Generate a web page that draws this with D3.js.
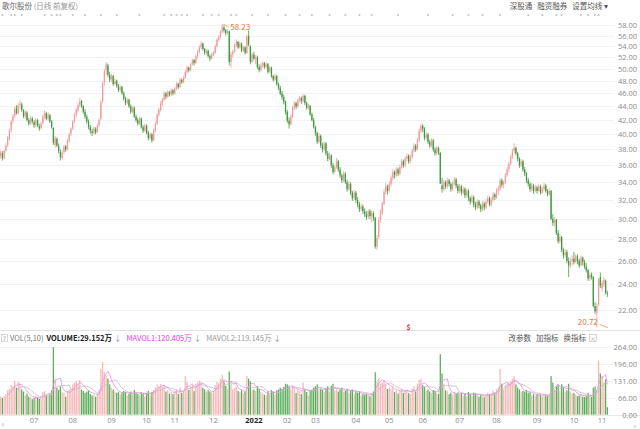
<!DOCTYPE html>
<html>
<head>
<meta charset="utf-8">
<script src="https://cdn.jsdelivr.net/npm/d3@7"></script>
<style>
  html, body { margin: 0; padding: 0; background: #fff; }
  svg { display: block; font-family: "Noto Sans CJK SC", "Noto Sans", sans-serif; }
</style>
</head>
<body>
<svg id="chart" width="640" height="429"></svg>
<script>
// daily rows: [open, high, low, close, volume(万)]
const jun2021 = [[37.2,37.9,36.8,37.6,70],[37.5,37.8,36.6,36.9,65],[36.9,38.0,36.7,37.8,72],[37.9,38.8,37.6,38.5,80],[38.6,39.8,38.3,39.5,95],[39.4,40.8,39.2,40.5,100],[40.6,42.0,40.2,41.8,115],[41.9,42.9,41.5,42.5,110],[42.6,44.0,42.3,43.6,132],[43.7,44.2,42.8,43.0,105],[43.0,44.5,42.8,44.1,128],[44.2,44.9,43.6,44.4,120],[44.3,44.6,43.2,43.5,98],[43.4,43.6,42.3,42.6,90],[42.5,43.5,42.2,43.2,75],[43.1,43.3,41.8,42.0,82],[42.0,42.3,41.2,41.5,70],[41.4,42.6,41.3,42.3,68],[42.2,42.5,41.5,41.8,60]];
const jul2021 = [[41.7,42.0,40.9,41.3,65],[41.3,42.3,41.0,42.0,72],[42.0,42.2,41.0,41.2,68],[41.1,41.5,40.5,40.8,62],[40.9,41.8,40.7,41.5,70],[41.6,42.8,41.4,42.5,88],[42.5,43.4,42.1,43.0,92],[43.0,43.2,42.0,42.2,75],[42.2,43.1,41.9,42.8,78],[42.7,42.9,41.6,41.8,80],[41.8,42.0,40.8,41.0,95],[40.9,41.0,38.6,38.9,262],[38.6,39.8,38.2,39.5,140],[39.4,39.6,38.3,38.5,105],[38.4,38.8,37.5,37.8,96],[37.7,38.0,36.6,37.0,110],[36.9,37.9,36.7,37.6,88],[37.7,38.6,37.4,38.4,85],[38.4,38.6,37.7,38.0,70],[38.1,39.4,37.9,39.2,92],[39.2,40.2,38.9,40.0,98],[40.1,41.0,39.8,40.8,100]];
const aug2021 = [[40.8,42.0,40.6,41.8,118],[41.9,43.0,41.6,42.8,125],[42.8,43.8,42.4,43.5,130],[43.4,44.5,43.1,44.2,120],[44.3,45.3,43.9,44.8,135],[44.8,45.0,43.8,44.0,98],[44.0,44.2,42.9,43.2,92],[43.2,43.6,42.2,42.5,85],[42.5,42.8,41.5,41.8,90],[41.8,42.1,40.7,41.0,95],[41.0,41.3,40.1,40.5,80],[40.4,40.8,39.8,40.2,75],[40.2,41.1,40.0,40.8,78],[40.8,41.0,40.0,40.3,70],[40.3,41.5,40.2,41.2,82],[41.3,42.3,41.0,42.0,98],[42.2,45.0,42.0,44.6,178],[44.8,48.0,44.5,47.6,205],[47.8,50.0,47.2,49.6,165],[49.8,51.2,49.0,50.8,150],[50.6,50.9,48.6,49.0,140],[49.0,49.5,47.8,48.2,118]];
const sep2021 = [[48.3,49.2,47.9,48.8,105],[48.8,49.0,47.2,47.5,98],[47.5,48.4,47.3,48.0,90],[48.0,48.2,46.9,47.2,85],[47.2,47.5,46.2,46.5,88],[46.5,47.3,46.3,47.0,80],[47.0,47.2,45.8,46.0,86],[46.0,46.3,44.9,45.2,92],[45.2,45.5,44.2,44.5,88],[44.5,45.3,44.3,45.0,75],[45.0,45.2,43.8,44.0,82],[44.0,44.3,42.9,43.2,90],[43.2,44.1,43.0,43.8,78],[43.8,44.0,42.3,42.5,96],[42.5,42.8,41.7,42.0,84],[42.0,42.3,41.2,41.5,80],[41.5,42.5,41.3,42.2,76],[42.2,42.4,40.8,41.0,88],[41.0,41.3,40.2,40.5,82],[40.5,41.5,40.3,41.2,72]];
const oct2021 = [[41.2,41.4,40.0,40.2,85],[40.2,40.5,39.2,39.5,92],[39.5,40.3,39.3,40.0,78],[40.0,40.2,38.9,39.2,88],[39.2,40.8,39.1,40.5,96],[40.5,41.8,40.3,41.5,105],[41.5,43.0,41.3,42.8,118],[42.8,43.8,42.5,43.5,110],[43.5,44.8,43.2,44.5,120],[44.5,45.3,44.1,45.0,108],[45.0,46.3,44.8,46.0,115],[46.0,46.2,45.1,45.5,90],[45.5,46.5,45.3,46.2,95],[46.2,46.4,45.5,45.8,82],[45.8,46.8,45.6,46.5,88],[46.5,46.7,45.7,46.0,80]];
const nov2021 = [[46.0,47.0,45.8,46.8,92],[46.8,47.8,46.5,47.5,98],[47.5,47.7,46.7,47.0,80],[47.0,48.5,46.9,48.2,105],[48.2,48.4,47.5,47.8,85],[47.8,48.8,47.6,48.5,92],[48.5,49.8,48.3,49.5,150],[49.5,50.6,49.2,50.2,128],[50.2,50.4,49.4,49.8,96],[49.8,51.0,49.6,50.8,110],[50.8,51.8,50.5,51.5,115],[51.5,51.7,50.6,51.0,92],[51.0,52.5,50.9,52.2,120],[52.2,53.3,51.9,53.0,125],[53.0,54.1,52.7,53.8,132],[53.8,54.9,53.5,54.5,128],[54.5,54.7,53.2,53.5,105],[53.5,53.7,52.5,52.8,98],[52.8,53.5,52.4,53.2,88],[53.2,53.4,52.0,52.2,95],[52.2,52.5,51.3,51.8,90],[51.8,52.8,51.6,52.5,86]];
const dec2021 = [[52.5,53.1,52.2,52.8,92],[52.8,54.3,52.6,54.0,115],[54.0,55.5,53.8,55.2,128],[55.2,56.1,54.9,55.8,122],[55.8,57.0,55.5,56.8,140],[56.8,58.23,56.4,57.6,155],[57.6,58.0,56.6,57.0,130],[57.0,57.3,56.0,56.5,112],[56.5,57.2,56.2,56.8,100],[56.8,57.0,50.6,51.2,168],[51.2,53.0,50.2,52.5,130],[52.5,53.4,52.0,53.0,98],[53.0,54.5,52.8,54.2,105],[54.2,55.3,53.9,54.8,110],[54.8,55.0,53.5,53.8,92],[53.8,54.8,53.6,54.5,88],[54.5,54.7,52.9,53.2,95],[53.2,54.1,53.0,53.8,82],[53.8,54.0,52.5,52.8,90],[52.8,56.2,52.6,55.8,150],[56.0,57.0,54.0,54.3,140],[54.0,54.2,50.8,51.2,130],[51.2,52.8,51.0,52.5,95]];
const jan2022 = [[52.5,53.0,51.5,51.8,98],[51.8,52.4,50.8,52.0,92],[52.0,52.3,50.0,50.3,110],[50.3,50.8,49.4,49.8,100],[49.8,51.0,49.6,50.6,88],[50.6,51.3,50.2,51.0,82],[51.0,51.2,50.0,50.3,78],[50.3,51.1,50.1,50.8,75],[50.8,51.0,49.2,49.5,92],[49.5,50.5,49.3,50.2,80],[50.2,50.4,48.5,48.8,96],[48.8,49.0,47.9,48.2,90],[48.2,49.2,48.0,48.8,78],[48.8,49.0,47.2,47.5,95],[47.5,47.7,46.5,46.8,98],[46.8,47.2,45.7,46.0,105],[46.0,46.4,45.0,45.4,100],[45.4,45.8,44.3,44.7,108],[44.7,44.9,42.8,43.2,120]];
const feb2022 = [[43.2,43.5,41.6,41.9,118],[41.9,42.4,40.8,41.4,110],[41.4,42.8,41.2,42.5,98],[42.5,44.0,42.3,43.8,112],[43.8,44.8,43.5,44.5,105],[44.5,44.7,43.6,44.0,85],[44.0,45.2,43.8,45.0,98],[45.0,45.6,44.6,45.3,92],[45.3,45.5,44.4,44.8,80],[44.8,45.9,44.6,45.6,125],[45.6,45.8,44.2,44.5,96],[44.5,44.7,43.5,43.8,88],[43.8,44.4,43.5,44.1,75],[44.1,44.2,42.6,42.8,92],[42.8,43.1,41.8,42.0,98],[42.0,42.3,40.8,41.0,105]];
const mar2022 = [[41.0,41.2,39.8,40.2,110],[40.2,40.4,38.7,39.0,118],[39.0,40.2,38.8,39.8,95],[39.8,40.0,38.2,38.5,102],[38.5,38.9,37.6,38.0,98],[38.0,39.1,37.8,38.8,90],[38.8,39.0,37.2,37.5,105],[37.5,37.8,36.5,36.8,110],[36.8,37.6,36.6,37.2,88],[37.2,37.4,35.7,36.0,112],[36.0,36.3,34.9,35.2,120],[35.2,36.1,35.0,35.8,95],[35.8,36.9,35.6,36.5,102],[36.5,36.7,35.2,35.5,90],[35.5,35.8,34.5,34.8,98],[34.8,35.0,33.9,34.2,105],[34.2,35.3,34.0,35.0,88],[35.0,35.2,33.8,34.0,92],[34.0,34.3,32.9,33.2,100],[33.2,34.1,33.0,33.8,85],[33.8,34.0,32.5,32.8,95],[32.8,33.0,31.9,32.2,98],[32.2,33.1,32.0,32.8,82]];
const apr2022 = [[32.8,33.0,31.7,32.0,88],[32.0,32.3,31.2,31.5,85],[31.5,31.8,30.7,31.0,90],[31.0,31.6,30.8,31.3,75],[31.3,31.5,30.5,30.8,80],[30.8,31.1,30.2,30.5,78],[30.5,30.8,29.9,30.2,82],[30.2,31.0,30.0,30.8,76],[30.8,31.0,30.0,30.3,72],[30.3,30.9,29.6,30.6,85],[30.6,30.8,29.8,30.1,90],[30.1,30.2,27.1,27.3,165],[27.3,28.4,27.0,28.1,130],[28.2,30.2,28.0,29.9,140],[29.9,31.0,29.6,30.6,120],[30.6,31.8,30.4,31.6,125],[31.6,33.2,31.4,32.9,135],[32.9,33.9,32.6,33.5,118],[33.5,33.7,32.6,33.0,100]];
const may2022 = [[33.0,34.1,32.8,33.8,105],[33.8,34.8,33.5,34.5,98],[34.5,35.5,34.2,35.2,110],[35.2,35.4,34.4,34.8,88],[34.8,35.8,34.6,35.5,95],[35.5,35.7,34.7,35.0,82],[35.0,36.1,34.8,35.8,92],[35.8,36.8,35.6,36.5,100],[36.5,36.7,35.7,36.0,85],[36.0,37.1,35.8,36.8,95],[36.8,37.5,36.5,37.2,98],[37.2,37.4,36.2,36.5,84],[36.5,37.3,36.3,37.0,80],[37.0,38.1,36.8,37.8,102],[37.8,38.8,37.6,38.5,110],[38.5,38.7,37.7,38.0,90],[38.0,39.5,37.9,39.2,120],[39.2,40.8,39.0,40.5,135],[40.5,41.5,40.2,41.2,140]];
const jun2022 = [[41.2,41.4,40.3,40.8,115],[40.8,41.0,39.2,39.5,108],[39.5,40.3,39.3,40.0,92],[40.0,40.2,38.7,39.0,98],[39.0,39.3,38.2,38.5,90],[38.5,39.5,38.3,39.2,85],[39.2,39.4,37.7,38.0,96],[38.0,38.3,37.2,37.5,92],[37.5,38.5,37.3,38.2,85],[38.2,38.4,37.3,37.6,80],[37.6,37.6,33.8,33.84,235],[33.6,34.5,32.8,33.2,160],[33.2,34.3,33.0,34.0,118],[34.0,34.2,33.2,33.5,95],[33.5,34.5,33.3,34.2,92],[34.2,34.4,33.5,33.8,80],[33.8,34.0,32.9,33.2,85],[33.2,34.1,33.0,33.8,78],[33.8,34.6,33.6,34.3,88],[34.3,34.5,33.3,33.6,82],[33.6,33.8,32.7,33.0,86]];
const jul2022 = [[33.0,33.8,32.8,33.5,80],[33.5,33.7,32.5,32.8,85],[32.8,33.5,32.6,33.2,75],[33.2,33.4,32.2,32.5,82],[32.5,33.3,32.3,33.0,72],[33.0,33.2,31.9,32.2,88],[32.2,32.4,31.5,31.8,80],[31.8,32.6,31.6,32.3,74],[32.3,32.5,31.2,31.5,86],[31.5,31.8,30.9,31.2,82],[31.2,32.1,31.0,31.8,78],[31.8,32.0,31.1,31.4,70],[31.4,31.6,30.7,31.0,76],[31.0,31.9,30.8,31.6,74],[31.6,31.8,30.9,31.2,68],[31.2,32.1,31.0,31.8,80],[31.8,32.5,31.6,32.2,85],[32.2,32.4,31.3,31.5,78],[31.5,32.3,31.3,32.0,82],[32.0,32.9,31.8,32.6,95],[32.6,32.8,32.0,32.3,84]];
const aug2022 = [[32.3,33.3,32.1,33.0,98],[33.0,33.6,32.6,33.2,105],[33.2,34.5,33.0,34.2,178],[34.2,34.4,33.4,33.7,120],[33.7,34.2,33.3,34.0,98],[34.0,35.1,33.8,34.8,115],[34.8,35.8,34.6,35.5,120],[35.5,36.5,35.2,36.2,125],[36.2,37.3,36.0,37.0,130],[37.0,38.1,36.8,37.8,140],[37.8,38.8,37.5,38.2,150],[38.2,38.4,37.2,37.5,118],[37.5,37.7,36.5,36.8,105],[36.8,37.0,35.7,36.0,98],[36.0,36.8,35.8,36.5,88],[36.5,36.7,35.2,35.5,92],[35.5,35.8,34.7,35.0,90],[35.0,35.2,33.9,34.2,96],[34.2,34.5,33.5,33.8,85],[33.8,34.0,32.9,33.2,88],[33.2,33.9,33.0,33.6,75],[33.6,33.8,32.7,33.0,80],[33.0,33.7,32.8,33.4,72]];
const sep2022 = [[33.4,33.6,32.7,33.0,78],[33.0,33.8,32.9,33.5,82],[33.5,33.7,32.6,32.8,76],[32.8,33.5,32.7,33.2,70],[33.2,33.9,33.0,33.6,80],[33.6,33.8,32.8,33.0,75],[33.0,33.2,32.4,32.6,72],[32.6,33.3,32.5,33.0,78],[33.0,33.1,29.9,30.0,150],[30.0,30.5,29.3,29.6,125],[29.6,30.2,29.2,29.9,98],[29.9,30.0,28.4,28.6,110],[28.6,28.9,27.6,27.8,115],[27.8,28.5,27.6,28.2,92],[28.2,28.3,26.8,27.0,118],[27.0,27.2,26.2,26.5,105],[26.5,27.1,26.3,26.8,88],[26.8,27.0,25.8,26.0,95],[26.0,26.3,24.6,25.6,120],[25.6,26.3,25.4,26.0,90],[26.0,26.5,25.6,26.2,82]];
const oct2022 = [[26.2,26.8,25.7,25.9,85],[25.9,26.6,25.8,26.4,78],[26.4,26.6,25.7,26.0,72],[26.0,26.2,25.4,25.6,75],[25.6,26.5,25.5,26.3,80],[26.3,26.4,25.6,25.9,70],[25.9,26.1,25.3,25.5,68],[25.5,25.8,25.0,25.2,72],[25.2,25.3,24.3,24.5,85],[24.5,25.0,24.3,24.8,75],[24.8,25.0,24.4,24.6,70],[24.6,24.7,22.2,22.3,105],[22.3,22.6,21.7,21.9,110],[21.8,22.5,20.72,22.3,95.02],[22.4,24.53,22.3,24.4,209.4],[24.6,25.0,23.7,23.9,160]];
const nov2022 = [[23.7,24.3,23.4,24.1,150],[24.0,24.6,23.8,24.4,125],[24.3,24.4,23.2,23.3,137.875],[23.3,23.5,23.0,23.25,29.152]];

const monthRows = [jun2021, jul2021, aug2021, sep2021, oct2021, nov2021, dec2021, jan2022, feb2022, mar2022, apr2022, may2022, jun2022, jul2022, aug2022, sep2022, oct2022, nov2022];
const monthLabels = ["", "07", "08", "09", "10", "11", "12", "2022", "02", "03", "04", "05", "06", "07", "08", "09", "10", "11"];

const priceTicks = [22, 24, 26, 28, 30, 32, 34, 36, 38, 40, 42, 44, 46, 48, 50, 52, 54, 56, 58];
const volTicks = [0, 66, 131, 196, 264];
// event marks along the top (trading-day index)
const eventDays = [1, 6, 8, 12, 25, 29, 32, 34, 41, 48, 57, 66, 79, 93, 97, 100, 103, 106, 115, 120, 124, 131, 134, 143, 152, 162, 170, 177, 187, 196, 204, 211, 226, 243, 257, 266, 274, 284, 300, 308, 316, 319, 330, 334, 338, 340];
const dividendDay = 232;

// flatten
const days = [];
const monthStarts = [];
monthRows.forEach((rows, m) => {
    monthStarts.push({ i: days.length, label: monthLabels[m] });
    rows.forEach(r => days.push({ o: r[0], h: r[1], l: r[2], c: r[3], v: r[4] }));
});
days.forEach((d, i) => {
    d.i = i;
    d.ma5 = i >= 4 ? d3.mean(days.slice(i - 4, i + 1), e => e.v) : null;
    d.ma10 = i >= 9 ? d3.mean(days.slice(i - 9, i + 1), e => e.v) : null;
});

const upCandle = "#f19a9a", downCandle = "#3d9a3d";
const upVol = "#f6b8b8", downVol = "#5aae5a";

const svg = d3.select("#chart");
const plotRight = 608;

const x = d3.scaleBand().domain(d3.range(days.length)).range([0, plotRight]).paddingInner(0.28);
const cx = i => x(i) + x.bandwidth() / 2;
const y = d3.scaleLog().domain([22, 58]).range([310, 25.3]);
const yv = d3.scaleLinear().domain([0, 264]).range([414.7, 346.7]);

// gridlines
svg.append("g").selectAll("line").data(priceTicks).join("line")
    .attr("x1", 0).attr("x2", 614).attr("y1", d => Math.round(y(d)) + 0.5).attr("y2", d => Math.round(y(d)) + 0.5)
    .attr("stroke", "#f3f3f3");
svg.append("g").selectAll("line").data(volTicks.slice(1)).join("line")
    .attr("x1", 0).attr("x2", 614).attr("y1", d => Math.round(yv(d)) + 0.5).attr("y2", d => Math.round(yv(d)) + 0.5)
    .attr("stroke", "#f3f3f3");

// panel separators
svg.append("line").attr("x1", 0).attr("x2", 640).attr("y1", 330.5).attr("y2", 330.5).attr("stroke", "#e2e2e2");
svg.append("line").attr("x1", 0).attr("x2", 640).attr("y1", 415.5).attr("y2", 415.5).attr("stroke", "#e8e8e8");

// candles
const candle = svg.append("g").selectAll("g").data(days).join("g");
candle.append("line")
    .attr("x1", d => cx(d.i)).attr("x2", d => cx(d.i))
    .attr("y1", d => y(d.h)).attr("y2", d => y(d.l))
    .attr("stroke", d => d.c >= d.o ? upCandle : downCandle).attr("stroke-width", 0.8);
candle.append("rect")
    .attr("x", d => x(d.i)).attr("width", x.bandwidth())
    .attr("y", d => y(Math.max(d.o, d.c)))
    .attr("height", d => Math.max(0.8, Math.abs(y(d.o) - y(d.c))))
    .attr("fill", d => d.c >= d.o ? upCandle : downCandle);

// volume bars
svg.append("g").selectAll("rect").data(days).join("rect")
    .attr("x", d => x(d.i)).attr("width", x.bandwidth())
    .attr("y", d => yv(d.v)).attr("height", d => yv(0) - yv(d.v))
    .attr("fill", d => d.c >= d.o ? upVol : downVol);

const ma5Line = d3.line().defined(d => d.ma5 != null).x(d => cx(d.i)).y(d => yv(d.ma5));
const ma10Line = d3.line().defined(d => d.ma10 != null).x(d => cx(d.i)).y(d => yv(d.ma10));
svg.append("path").datum(days).attr("d", ma10Line).attr("fill", "none").attr("stroke", "#c9b9c9").attr("stroke-width", 0.8);
svg.append("path").datum(days).attr("d", ma5Line).attr("fill", "none").attr("stroke", "#e58fe5").attr("stroke-width", 0.8);

// right axes
const fmt = d3.format(".2f");
const priceAxis = svg.append("g").attr("transform", "translate(637,0)")
    .call(d3.axisLeft(y).tickValues(priceTicks).tickFormat(fmt).tickSize(0).tickPadding(0));
const volAxis = svg.append("g").attr("transform", "translate(637,0)")
    .call(d3.axisLeft(yv).tickValues(volTicks).tickFormat(fmt).tickSize(0).tickPadding(0));
[priceAxis, volAxis].forEach(g => {
    g.select(".domain").remove();
    g.selectAll("text").attr("fill", "#8a8a8a").style("font-size", "7.5px").style("font-family", "'Open Sans', 'Noto Sans', sans-serif");
});

// month axis
const isYear = i => monthStarts.find(m => m.i === i).label === "2022";
const monthAxis = svg.append("g").attr("transform", "translate(0,417)")
    .call(d3.axisBottom(x).tickValues(monthStarts.filter(m => m.label).map(m => m.i))
        .tickFormat(i => monthStarts.find(m => m.i === i).label).tickSize(0).tickPadding(0));
monthAxis.select(".domain").remove();
monthAxis.selectAll("text").attr("dy", "0.75em").attr("fill", d => isYear(d) ? "#222" : "#8a8a8a")
    .style("font-size", "7.5px").style("font-weight", d => isYear(d) ? "bold" : "normal")
    .style("font-family", "'Open Sans', 'Noto Sans', sans-serif");
svg.append("text").attr("x", 1).attr("y", 427).attr("fill", "#bbb").style("font-size", "8px").text("«");
svg.append("text").attr("x", 633).attr("y", 428).attr("fill", "#bbb").style("font-size", "7px").text("»");

// high / low labels
const hiDay = days.reduce((a, b) => b.h > a.h ? b : a);
const loDay = days.reduce((a, b) => b.l < a.l ? b : a);
const labelColor = "#dd7a3c";
svg.append("line").attr("x1", cx(hiDay.i) + 1).attr("x2", cx(hiDay.i) + 7).attr("y1", y(hiDay.h)).attr("y2", y(hiDay.h) + 3)
    .attr("stroke", labelColor).attr("stroke-width", 0.6);
svg.append("text").attr("x", cx(hiDay.i) + 8).attr("y", y(hiDay.h) + 6).attr("fill", labelColor)
    .style("font-size", "8px").text(fmt(hiDay.h));
svg.append("text").attr("x", cx(loDay.i) + 1).attr("y", y(loDay.l) - 3).attr("text-anchor", "end").attr("fill", labelColor)
    .style("font-size", "8px").text(fmt(loDay.l));
svg.append("line").attr("x1", cx(loDay.i) + 3).attr("x2", cx(loDay.i) + 11).attr("y1", y(loDay.l) - 3).attr("y2", y(loDay.l))
    .attr("stroke", labelColor).attr("stroke-width", 0.6);

// dividend marker
svg.append("text").attr("x", cx(dividendDay)).attr("y", 330).attr("text-anchor", "middle").attr("fill", "#e03c3c")
    .style("font-size", "7px").style("font-weight", "bold").text("$");

// event marks
svg.append("g").selectAll("circle").data(eventDays).join("circle")
    .attr("cx", d => cx(d)).attr("cy", 15).attr("r", 1.1).attr("fill", "#c4c4c4");

// header
svg.append("text").attr("x", 2).attr("y", 9).attr("fill", "#666").style("font-size", "7.5px")
    .text("歌尔股份").append("tspan").attr("fill", "#999").text(" (日线 前复权)");
const topRight = svg.append("text").attr("x", 608).attr("y", 9).attr("text-anchor", "end").attr("fill", "#555").style("font-size", "7.5px");
topRight.append("tspan").text("深股通");
topRight.append("tspan").attr("dx", 5).text("融资融券");
topRight.append("tspan").attr("dx", 5).text("设置均线 ▾");

// volume header
const last = days[days.length - 1];
const wan = v => v.toFixed(3) + "万";
svg.append("rect").attr("x", 1.5).attr("y", 334.5).attr("width", 6).attr("height", 7).attr("fill", "none").attr("stroke", "#bbb").attr("stroke-width", 0.6);
svg.append("text").attr("x", 4.5).attr("y", 340.5).attr("text-anchor", "middle").attr("fill", "#888").style("font-size", "6px").text("?");
const vh = svg.append("text").attr("x", 10).attr("y", 341).style("font-size", "7.5px");
vh.append("tspan").attr("fill", "#777").text("VOL(5,10)");
vh.append("tspan").attr("dx", 3).attr("fill", "#222").style("font-weight", "bold").text("VOLUME:" + wan(last.v));
vh.append("tspan").attr("dx", 2).attr("fill", "#999").text("↓");
vh.append("tspan").attr("dx", 5).attr("fill", "#e03ce0").text("MAVOL1:" + wan(last.ma5));
vh.append("tspan").attr("dx", 2).attr("fill", "#999").text("↓");
vh.append("tspan").attr("dx", 5).attr("fill", "#999").text("MAVOL2:" + wan(last.ma10));
vh.append("tspan").attr("dx", 2).attr("fill", "#999").text("↓");

const vr = svg.append("text").attr("x", 586).attr("y", 341).attr("text-anchor", "end").attr("fill", "#555").style("font-size", "7.5px");
vr.append("tspan").text("改参数");
vr.append("tspan").attr("dx", 5).text("加指标");
vr.append("tspan").attr("dx", 5).text("换指标");
svg.append("rect").attr("x", 589.5).attr("y", 334.5).attr("width", 7).attr("height", 7).attr("fill", "none").attr("stroke", "#bbb").attr("stroke-width", 0.6);
svg.append("text").attr("x", 593).attr("y", 340.5).attr("text-anchor", "middle").attr("fill", "#999").style("font-size", "6px").text("×");
</script>
</body>
</html>
